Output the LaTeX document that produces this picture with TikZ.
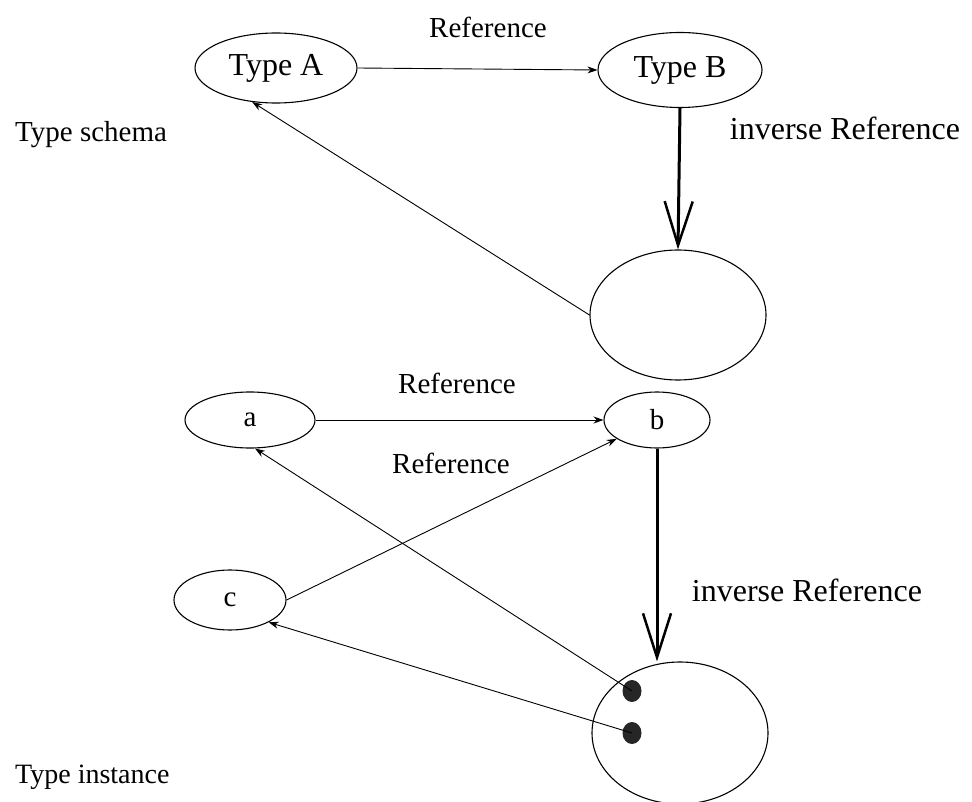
\documentclass[tikz,border=0pt]{standalone}
\usepackage{fontspec}
\setmainfont{Liberation Serif}
\usetikzlibrary{shapes.geometric,arrows.meta}
\tikzset{
  oval/.style={draw, ellipse, inner sep=0pt, line width=1.1pt},
  lbl/.style={font=\fontsize{29}{31}\selectfont, inner sep=0pt},
  typelbl/.style={font=\fontsize{32}{34}\selectfont},
  invlbl/.style={font=\fontsize{32}{34}\selectfont, inner sep=0pt},
  ref/.style={line width=0.9pt, -{Stealth[length=10pt,width=7pt]}},
  inv/.style={line width=3pt, -{Straight Barb[length=44pt,width=28pt,line width=2.5pt]}},
  dot/.style={ellipse, fill=black!85, inner sep=0pt, minimum width=19pt, minimum height=22pt}
}
\begin{document}
\begin{tikzpicture}[x=1pt,y=-1pt]
\useasboundingbox (0,0) rectangle (972,802);
% Type schema
\node[oval, minimum width=162pt, minimum height=70pt, typelbl] (A) at (276,68) {Type A};
\node[oval, minimum width=164pt, minimum height=75pt, typelbl] (B) at (680,70) {Type B};
\node[oval, minimum width=176pt, minimum height=130pt] (S) at (678,315) {};
\node[lbl] (reftop) at (488,27) {Reference};
\node[invlbl] (invtop) at (845,128) {inverse Reference};
\node[lbl, anchor=west] (schema) at (15,135) {Type schema};
\draw[ref] (A.east) -- (B.west);
\draw[inv] (B.south) -- (S.north);
\draw[ref] (S.west) -- (A.235);
% Type instance
\node[oval, minimum width=130pt, minimum height=56pt, lbl] (a) at (250,420) {a};
\node[oval, minimum width=106pt, minimum height=56pt, lbl] (b) at (657,420) {b};
\node[oval, minimum width=112pt, minimum height=60pt, lbl] (c) at (230,600) {c};
\node[oval, minimum width=176pt, minimum height=142pt] (I) at (680,733) {};
\node[dot] (d1) at (632,691) {};
\node[dot] (d2) at (632,733) {};
\node[lbl] (refa) at (457,383) {Reference};
\node[lbl] (refc) at (451,463) {Reference};
\node[invlbl] (invbot) at (807,590) {inverse Reference};
\node[lbl, anchor=west, font=\fontsize{28}{30}\selectfont] (inst) at (15,777) {Type instance};
\draw[ref] (a.east) -- (b.west);
\draw[ref] (c.east) -- (b.205);
\draw[inv] (b.south) -- (b.south |- I.north);
\draw[ref] (d1.center) -- (a.280);
\draw[ref] (d2.center) -- (c.-30);
\end{tikzpicture}
\end{document}
